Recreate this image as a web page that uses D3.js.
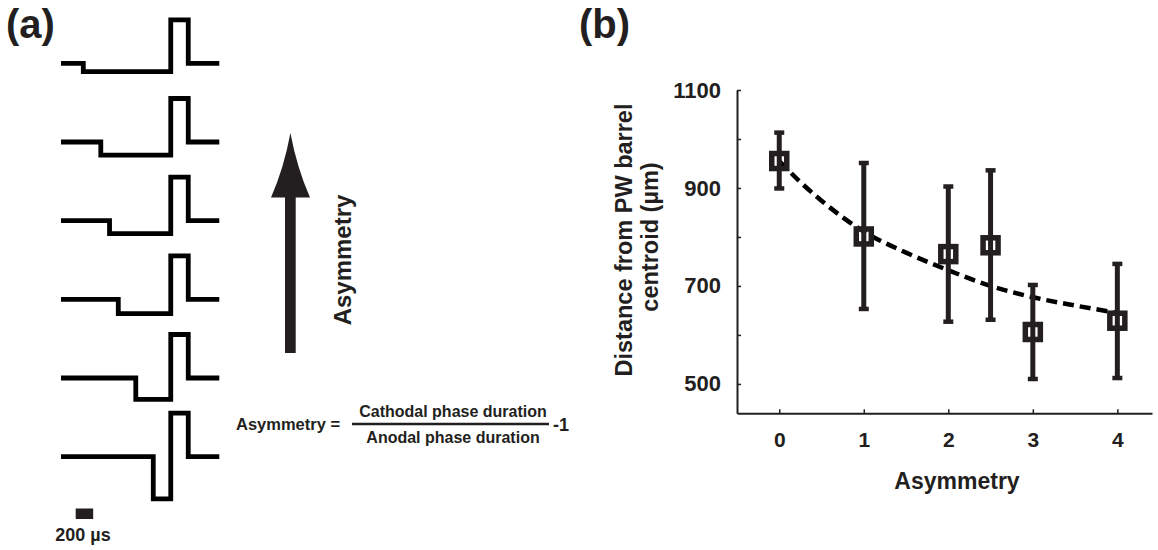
<!DOCTYPE html>
<html>
<head>
<meta charset="utf-8">
<script src="https://cdn.jsdelivr.net/npm/d3@7"></script>
<style>
  body { margin: 0; background: #fff; }
  svg text { font-family: "Liberation Sans", Arial, sans-serif; font-weight: bold; fill: #231f20; }
</style>
</head>
<body>
<div id="chart"></div>
<script>
// panel (b) data
var asymLevels = [0, 1, 2, 2.5, 3, 4];
var distMean   = [955, 801, 765, 783, 606, 629];
var errUpper   = [1013, 951, 903, 936, 702, 745];
var errLower   = [899, 653, 627, 631, 510, 512];

// dashed fit curve
var fitX = [0, 0.25, 0.5, 1, 1.5, 2, 2.5, 3, 3.5, 4];
var fitY = [955, 912, 874, 811, 768, 732, 700, 677, 660, 645];

var yTicks  = [500, 600, 700, 800, 900, 1000, 1100];
var yLabels = [500, 700, 900, 1100];
var xTicks  = [0, 1, 2, 3, 4];

// panel (a) waveforms, top to bottom
var waveAsym    = [4, 3, 2.5, 2, 1, 0];
var cathodalDur = [1000, 800, 700, 600, 400, 200];   // µs
var cathodalAmp = [0.19, 0.3, 0.3, 0.33, 0.49, 0.97]; // relative to anodal
var anodalDur = 200;
var scaleBarUs = 200;

var dark = "#231f20";

var svg = d3.select("#chart").append("svg")
    .attr("width", 1158)
    .attr("height", 550);

// ---------- panel (a) ----------
var tx = d3.scaleLinear().domain([-1255, 555]).range([61, 219.3]);
var row = d3.scalePoint().domain(d3.range(waveAsym.length)).range([63.3, 456.7]);
var vy = d3.scaleLinear().domain([-1, 1]).range([43.5, -43.5]);

var waves = waveAsym.map(function (a, i) {
  var c = cathodalDur[i], amp = cathodalAmp[i];
  return {
    i: i,
    pts: [[-1255, 0], [-c, 0], [-c, -amp], [0, -amp], [0, 1], [anodalDur, 1], [anodalDur, 0], [555, 0]]
  };
});

var ga = svg.append("g");
waves.forEach(function (w) {
  var line = d3.line()
      .x(function (p) { return tx(p[0]); })
      .y(function (p) { return row(w.i) + vy(p[1]); });
  ga.append("path")
    .attr("d", line(w.pts))
    .attr("fill", "none")
    .attr("stroke", "#000")
    .attr("stroke-width", 4.8)
    .attr("stroke-linejoin", "miter");
});

// scale bar
ga.append("rect")
  .attr("x", 75.7).attr("y", 508.5)
  .attr("width", tx(scaleBarUs) - tx(0))
  .attr("height", 10.5)
  .attr("fill", dark);
ga.append("text")
  .attr("x", 83).attr("y", 541)
  .attr("text-anchor", "middle")
  .style("font-size", "18px")
  .text("200 µs");

// arrow
ga.append("rect")
  .attr("x", 285).attr("y", 195)
  .attr("width", 10.7).attr("height", 158)
  .attr("fill", dark);
ga.append("path")
  .attr("d", "M290.4,133 Q284,168 271,197.5 L310,197.5 Q297,168 290.4,133 Z")
  .attr("fill", dark);
ga.append("text")
  .attr("transform", "translate(351,260) rotate(-90)")
  .attr("text-anchor", "middle")
  .style("font-size", "24px")
  .text("Asymmetry");

// formula
ga.append("text")
  .attr("x", 236).attr("y", 430)
  .style("font-size", "16.5px")
  .text("Asymmetry =");
ga.append("text")
  .attr("x", 453).attr("y", 417)
  .attr("text-anchor", "middle")
  .style("font-size", "16px")
  .text("Cathodal phase duration");
ga.append("line")
  .attr("x1", 352).attr("x2", 549)
  .attr("y1", 424).attr("y2", 424)
  .attr("stroke", dark).attr("stroke-width", 2.5);
ga.append("text")
  .attr("x", 453).attr("y", 443)
  .attr("text-anchor", "middle")
  .style("font-size", "16px")
  .text("Anodal phase duration");
ga.append("text")
  .attr("x", 553).attr("y", 431)
  .style("font-size", "18px")
  .text("-1");

// ---------- panel (b) ----------
var x = d3.scaleLinear().domain([-0.5, 4.41]).range([737, 1152]);
var y = d3.scaleLinear().domain([440, 1100]).range([413.3, 90]);

var gb = svg.append("g");

var yAxis = d3.axisLeft(y)
    .tickValues(yTicks)
    .tickSize(-4)
    .tickSizeOuter(0)
    .tickPadding(16)
    .tickFormat(function (d) { return yLabels.indexOf(d) > -1 ? d : ""; });
var gy = gb.append("g").attr("transform", "translate(737,0)").call(yAxis);

var xAxis = d3.axisBottom(x)
    .tickValues(xTicks)
    .tickSize(-4)
    .tickSizeOuter(0)
    .tickPadding(19)
    .tickFormat(d3.format("d"));
var gx = gb.append("g").attr("transform", "translate(0,413.3)").call(xAxis);

[gx, gy].forEach(function (g) {
  g.select(".domain").attr("stroke", dark).attr("stroke-width", 2);
  g.selectAll(".tick line").attr("stroke", dark).attr("stroke-width", 1.5);
  g.selectAll(".tick text")
    .attr("fill", dark)
    .style("font-family", "'Liberation Sans', Arial, sans-serif")
    .style("font-weight", "bold")
    .style("font-size", "22px");
});
gx.selectAll(".tick text").style("font-size", "21px");

// fit curve
var fitLine = d3.line()
    .x(function (d, i) { return x(fitX[i]); })
    .y(function (d) { return y(d); })
    .curve(d3.curveMonotoneX);
gb.append("path")
  .attr("d", fitLine(fitY))
  .attr("fill", "none")
  .attr("stroke", "#000")
  .attr("stroke-width", 4.5)
  .attr("stroke-dasharray", "11,6");

// error bars
var pts = asymLevels.map(function (a, i) {
  return { a: a, m: distMean[i], hi: errUpper[i], lo: errLower[i] };
});
var eb = gb.selectAll(".eb").data(pts).enter().append("g").attr("class", "eb");
eb.append("line")
  .attr("x1", function (d) { return x(d.a); })
  .attr("x2", function (d) { return x(d.a); })
  .attr("y1", function (d) { return y(d.hi); })
  .attr("y2", function (d) { return y(d.lo); })
  .attr("stroke", dark).attr("stroke-width", 5);
eb.append("line")
  .attr("x1", function (d) { return x(d.a) - 5; })
  .attr("x2", function (d) { return x(d.a) + 5; })
  .attr("y1", function (d) { return y(d.hi); })
  .attr("y2", function (d) { return y(d.hi); })
  .attr("stroke", dark).attr("stroke-width", 4.5);
eb.append("line")
  .attr("x1", function (d) { return x(d.a) - 5; })
  .attr("x2", function (d) { return x(d.a) + 5; })
  .attr("y1", function (d) { return y(d.lo); })
  .attr("y2", function (d) { return y(d.lo); })
  .attr("stroke", dark).attr("stroke-width", 4.5);
eb.append("rect")
  .attr("x", function (d) { return x(d.a) - 7.5; })
  .attr("y", function (d) { return y(d.m) - 7.5; })
  .attr("width", 15).attr("height", 15)
  .attr("fill", "none")
  .attr("stroke", dark).attr("stroke-width", 5.5);

// axis titles
gb.append("text")
  .attr("x", 957).attr("y", 489)
  .attr("text-anchor", "middle")
  .style("font-size", "23px")
  .text("Asymmetry");
gb.append("text")
  .attr("transform", "translate(632,240) rotate(-90)")
  .attr("text-anchor", "middle")
  .style("font-size", "23.5px")
  .text("Distance from PW barrel");
gb.append("text")
  .attr("transform", "translate(658,237) rotate(-90)")
  .attr("text-anchor", "middle")
  .style("font-size", "23.5px")
  .text("centroid (µm)");

// panel labels
svg.append("text").attr("x", 6).attr("y", 38).style("font-size", "40px").text("(a)");
svg.append("text").attr("x", 579).attr("y", 38).style("font-size", "40px").text("(b)");
</script>
</body>
</html>
